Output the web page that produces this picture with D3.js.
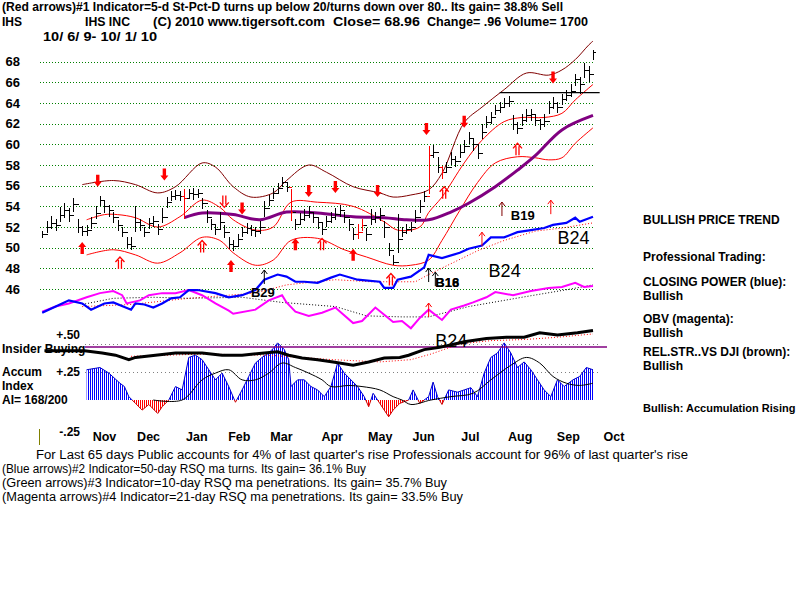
<!DOCTYPE html>
<html><head><meta charset="utf-8">
<script src="https://cdn.jsdelivr.net/npm/d3@7/dist/d3.min.js"></script>
<style>body{margin:0;background:#fff}svg{display:block}</style>
</head><body><svg id="c" width="800" height="600"></svg>
<script>
// ---------------- DATA ----------------
const priceTicks=[46,48,50,52,54,56,58,60,62,64,66,68];
const monthNames=['Nov','Dec','Jan','Feb','Mar','Apr','May','Jun','Jul','Aug','Sep','Oct'];
const monthStartDays=[19,39,61,80,99,122,143,163,185,206,228,249];
// price bars (one every 2 sessions)
const closes=[51.3,52.0,52.4,52.2,53.2,53.6,53.2,54.2,52.0,51.6,
51.7,52.4,53.4,54.6,54.0,53.6,53.0,52.2,51.5,50.4,
50.2,52.5,52.2,51.5,52.4,52.6,51.8,53.0,54.4,55.0,
55.1,55.0,54.8,55.3,55.2,55.3,54.3,53.0,52.3,51.8,
52.5,51.5,50.4,50.2,50.8,51.5,51.9,51.7,51.6,52.0,
53.8,54.6,55.3,55.8,56.4,55.9,53.5,52.3,52.8,53.2,
53.5,53.0,52.5,51.8,52.6,53.0,53.3,53.6,53.0,52.3,
51.3,51.5,52.2,51.3,52.8,53.0,53.2,52.0,49.8,48.6,
50.8,51.5,51.8,52.0,53.0,54.0,55.0,59.0,59.3,57.8,
57.3,57.8,58.6,58.4,59.3,59.8,60.6,60.0,59.2,61.2,
62.2,62.6,63.3,63.6,64.0,64.2,62.0,61.6,62.4,62.8,
62.9,62.4,62.0,62.3,63.6,64.0,63.6,64.4,64.8,65.2,
66.3,65.8,67.2,66.8,68.96];
const highs=[51.6,52.6,53.1,52.8,53.9,54.3,53.8,54.8,52.8,52.1,
52.2,53.0,54.0,55.0,54.5,54.1,53.5,52.7,52.0,51.0,
51.0,54.0,52.8,52.0,52.9,53.1,52.3,53.8,54.9,55.5,
55.6,55.5,55.7,55.7,55.8,55.7,54.8,53.6,52.8,52.3,
53.5,52.2,51.0,50.7,51.3,52.0,52.4,52.2,52.0,52.6,
54.5,55.1,55.8,56.3,56.8,56.3,55.7,52.8,53.4,53.7,
54.0,53.5,53.0,52.5,53.1,53.5,53.8,54.1,53.5,52.8,
51.9,52.3,52.8,51.9,53.7,53.5,53.8,52.6,50.5,49.3,
53.3,52.0,52.3,52.5,53.6,54.6,55.5,59.8,59.9,58.8,
57.9,58.3,59.3,58.9,59.9,60.4,61.2,60.6,59.9,62.0,
62.7,63.1,63.8,64.1,64.5,64.7,62.8,62.2,62.9,63.4,
63.4,62.9,62.5,62.9,64.2,64.6,64.1,64.9,65.3,65.8,
66.8,66.5,67.9,67.6,69.1];
const lows=[50.9,51.4,51.8,51.6,52.5,52.9,52.5,53.5,51.4,51.1,
51.1,51.8,52.8,54.0,53.4,53.0,52.4,51.6,51.0,49.9,
49.8,51.5,51.6,51.0,51.8,52.0,51.2,52.4,53.8,54.5,
54.6,54.5,52.8,54.8,54.6,54.8,53.7,52.4,51.7,51.2,
51.8,50.9,49.9,49.7,50.2,51.0,51.3,51.1,51.0,51.3,
53.0,54.0,54.7,55.3,55.9,55.4,52.6,51.7,52.2,52.6,
52.9,52.4,51.8,51.2,52.0,52.4,52.7,53.0,52.4,51.6,
50.7,50.8,51.6,50.6,52.2,52.4,52.6,50.9,49.2,48.3,
49.5,51.0,51.3,51.5,52.4,53.4,54.4,55.2,58.7,57.2,
56.6,57.2,58.0,57.8,58.7,59.2,60.0,59.4,58.6,60.5,
61.6,62.0,62.8,63.0,63.5,63.6,61.4,61.0,61.8,62.2,
62.3,61.8,61.4,61.7,62.9,63.4,63.0,63.8,64.2,64.6,
65.6,64.9,66.4,66.0,68.2];
const redBars=[32,56,71,72,87,90];
// bands
const upperDays=[19,33,43,53,61,73,79,87,95,105,111,121,129,141,153,159,167,175,181,191,199,209,219,229,235,241,247,249];
const upperVals=[56.1,56.5,56.1,55.3,55.9,58.2,57.8,55.9,54.9,55.3,56.5,58.0,57.3,55.9,55.3,54.9,55.1,55.6,57.2,62.1,63.6,65.3,66.9,66.7,67.2,68.2,69.6,70.0];
const innerDays=[21,29,35,43,53,63,73,81,87,97,105,113,125,141,155,161,171,175,181,191,199,209,217,227,235,241,249];
const innerVals=[52.7,53.2,53.2,52.9,52.0,53.0,54.6,53.9,52.7,51.7,52.0,54.4,54.4,54.0,52.5,51.7,52.0,53.4,54.9,58.2,60.4,62.2,62.6,62.6,63.0,64.3,65.8];
const lowerDays=[21,33,43,53,63,73,81,87,97,105,113,125,137,147,159,167,175,181,189,197,205,215,223,229,235,241,249];
const lowerVals=[49.3,49.8,49.3,48.5,49.5,51.0,50.7,49.5,48.3,48.8,50.7,50.9,49.8,49.1,48.3,48.3,48.8,50.7,53.6,56.3,58.2,58.8,58.7,58.5,58.7,60.1,61.6];
const maDays=[65,73,87,99,111,125,141,155,165,175,185,193,205,215,223,235,249];
const maVals=[52.9,53.35,53.2,52.7,53.45,53.35,53.0,52.9,52.7,52.7,53.45,54.3,55.9,57.5,58.9,61.4,62.8];
const resistance=65;
// closing power (blue) and its ma
const cpDays=[1,9,13,19,23,29,33,41,43,47,51,55,59,63,67,71,79,85,91,97,101,107,111,115,119,125,131,135,143,153,155,159,161,167,173,175,181,189,193,199,203,209,215,221,227,231,237,241,243,249];
const cpVals=[43.7,44.5,44.9,44.6,44.0,44.6,44.7,44.0,44.6,44.5,44.2,44.6,45.1,45.2,45.9,45.9,45.6,45.2,45.4,45.9,46.9,47.4,47.2,46.7,46.7,46.6,47.1,47.4,46.9,46.7,46.1,46.1,46.9,47.2,48.1,49.3,49.0,49.5,49.9,50.2,51.0,51.0,51.5,51.7,51.9,52.2,52.4,52.9,52.5,53.0];
const cpMaDays=[19,41,67,97,111,133,149,169,175,197,209,223,235,249];
const cpMaVals=[44.3,44.5,45.1,45.6,46.4,46.9,46.7,46.7,47.4,49.7,50.7,51.6,51.9,52.4];
// OBV (magenta) and its ma
const obvDays=[1,7,13,21,27,33,37,39,45,49,55,61,67,73,79,85,87,97,103,109,111,115,121,127,133,141,145,151,155,159,163,167,171,175,181,185,191,195,201,205,213,221,229,235,241,245,249];
const obvVals=[43.8,44.3,44.6,45.2,45.6,45.8,45.4,44.6,44.9,45.4,45.6,45.6,45.9,45.4,44.6,43.9,43.6,44.0,44.9,45.4,44.7,43.8,43.4,43.7,44.2,42.7,42.9,44.2,43.5,42.8,42.9,42.2,43.2,44.0,43.0,44.0,44.4,44.7,45.2,45.7,45.4,45.8,46.1,46.2,46.6,46.2,46.3];
const obvMaDays=[19,33,51,67,91,109,133,147,163,175,193,217,239,249];
const obvMaVals=[44.5,45.1,45.2,45.1,45.2,44.7,44.3,43.4,43.3,43.3,44.3,45.2,46.0,46.4];
// relative strength (black thick) and its ma, accumulation index
const rsDays=[2,20,28,34,40,43,52,61,73,82,91,101,107,112,118,125,132,141,148,155,162,166,173,180,191,201,210,218,225,233,242,249];
const rsVals=[0.44,0.44,0.42,0.40,0.36,0.38,0.40,0.42,0.42,0.40,0.40,0.42,0.43,0.40,0.375,0.36,0.34,0.31,0.34,0.375,0.38,0.40,0.45,0.47,0.52,0.55,0.56,0.56,0.60,0.58,0.60,0.62];
const rsMaDays=[41,73,103,132,153,167,176,189,203,218,233,249];
const rsMaVals=[0.39,0.41,0.40,0.36,0.34,0.36,0.41,0.50,0.53,0.54,0.56,0.59];
const insiderLevel=0.473;
const aiDays=[21,27,31,36,38,40,43,46,49,53,55,58,61,64,67,70,73,76,79,82,85,88,91,94,97,100,103,105,107,110,112,113,116,119,122,125,128,131,134,137,140,143,146,148,150,153,157,159,162,166,168,171,175,177,179,181,184,188,191,194,197,200,203,206,209,212,215,218,221,224,227,230,233,236,240,243,246,249];
const aiVals=[0.27,0.29,0.24,0.15,0.12,0.03,-0.03,-0.09,-0.04,-0.12,-0.06,0,0.12,0.09,0.38,0.40,0.36,0.27,0.18,0.24,0.12,-0.02,0.09,0.21,0.33,0.38,0.42,0.46,0.51,0.45,0.36,0.12,0.18,0.18,0.12,0.09,0.03,0.12,0.33,0.24,0.18,0.12,0.03,-0.06,0.06,-0.03,-0.15,-0.09,-0.03,0,0.09,-0.03,0.03,0.16,0.03,-0.04,0.09,0.07,0.09,0.11,0.03,0.24,0.38,0.42,0.51,0.42,0.29,0.34,0.27,0.18,0.09,0.03,0.18,0.12,0.18,0.21,0.29,0.27];
const aiMaDays=[51,64,73,79,85,91,97,103,109,115,121,127,131,139,145,153,159,163,167,176,185,195,203,212,219,225,231,237,243,249];
const aiMaVals=[0,0,0.18,0.24,0.27,0.18,0.18,0.24,0.33,0.29,0.24,0.18,0.12,0.13,0.12,0.09,0.03,0,-0.04,0,0.03,0.06,0.18,0.31,0.38,0.33,0.21,0.15,0.13,0.15];
const aiTicks=[0.5,0.25];
// signal arrows
const sellDays=[26,56,83,91,121,133,152,174,191,231];
const sellTips=[55.9,56.5,53.9,53.2,54.9,55.3,54.9,60.9,61.6,65.9];
const sellDouble=[0,0,1,0,0,0,0,0,0,0];
const buyDays=[19,36,73,86,115,127,141,158,182,215];
const buyTips=[50.55,49.1,50.7,48.8,50.9,50.9,49.9,47.5,55.9,60.1];
const buyDouble=[0,1,1,0,0,1,0,1,1,1];
const thinDays=[101,175,178,208,230,199,175];
const thinTips=[47.84,48.03,47.64,54.42,54.6,51.5,44.64];
const thinColors=['#000','#000','#000','#800000','#ff0000','#ff0000','#ff0000'];
const tagTexts=['B29','B16','B18','B19'];
const tagDays=[95,178,178,212];
const tagVals=[45.2,46.2,46.2,52.7];
const bigTags=['B24','B24'];
const bigTagDays=[233,202];
const bigTagVals=[50.35,47.16];
const rsTagDay=178, rsTagVal=0.47;
// texts
const header1='(Red arrows)#1 Indicator=5-d St-Pct-D turns up below 20/turns down over 80.. Its gain= 38.8% Sell';
const header2=['IHS','IHS INC','(C) 2010 www.tigersoft.com','Close=  68.96','Change= .96 Volume= 1700'];
const header3='10/ 6/ 9- 10/ 1/ 10';
const rightTexts=['BULLISH PRICE TREND','Professional Trading:','CLOSING POWER (blue):','Bullish','OBV (magenta):','Bullish','REL.STR..VS DJI (brown):','Bullish','Bullish: Accumulation Rising'];
const leftTexts=['Insider Buying','Accum','Index','AI= 168/200'];
const aiLabels=['+.50','+.25','-.25'];
const footer=["For Last 65 days Public accounts for  4% of last quarter's rise  Professionals account for  96% of last quarter's rise",
'(Blue arrows)#2 Indicator=50-day RSQ ma turns. Its gain= 36.1% Buy',
'(Green arrows)#3 Indicator=10-day RSQ ma penetrations. Its gain= 35.7% Buy',
'(Magenta arrows)#4 Indicator=21-day RSQ ma penetrations. Its gain= 33.5% Buy'];

// ---------------- DRAW ----------------
const FONT='"Liberation Sans", Arial, sans-serif';
const svg=d3.select('#c').attr('font-family',FONT);
svg.append('rect').attr('width',800).attr('height',600).attr('fill','#fff');
const x=d3.scaleLinear().domain([0,249]).range([40,593]);
const y=d3.scaleLinear().domain([46,68]).range([289,61.7]);
const yA=d3.scaleLinear().domain([0,0.5]).range([400,344]);
const barDay=i=>2*i+1;

function T(s,px,py,o={}){
  const t=svg.append('text').attr('x',px).attr('y',py).attr('dy','0.35em')
   .attr('font-size',o.size||12).attr('font-weight',o.bold===false?'normal':'bold')
   .attr('fill',o.fill||'#000').attr('text-anchor',o.anchor||'start').text(s);
  if(o.len){t.attr('textLength',o.len).attr('lengthAdjust','spacingAndGlyphs');}
  return t;
}

// price grid & axis
const ax=svg.append('g').attr('transform','translate(40,0)')
  .call(d3.axisLeft(y).tickValues(priceTicks).tickSize(-553).tickPadding(20).tickFormat(d3.format('d')));
ax.select('.domain').remove();
ax.selectAll('.tick line').attr('stroke','#008000').attr('stroke-dasharray','1,2').attr('shape-rendering','crispEdges');
ax.selectAll('.tick text').attr('font-size',13).attr('font-weight','bold').attr('fill','#000').attr('font-family',FONT);

// month axis
const mx=svg.append('g').attr('transform','translate(0,437)')
  .call(d3.axisBottom(x).tickValues(monthStartDays).tickFormat((d,i)=>monthNames[i]).tickSize(0).tickPadding(0));
mx.select('.domain').remove();
mx.selectAll('.tick text').attr('text-anchor','start').attr('dx',10).attr('y',0).attr('dy','0.35em')
  .attr('font-size',12.5).attr('font-weight','bold').attr('fill','#000').attr('font-family',FONT);

const lineP=d3.line().x(d=>x(d[0])).y(d=>y(d[1]));
const smoothP=d3.line().x(d=>x(d[0])).y(d=>y(d[1])).curve(d3.curveCatmullRom);
const lineA=d3.line().x(d=>x(d[0])).y(d=>yA(d[1]));
const smoothA=d3.line().x(d=>x(d[0])).y(d=>yA(d[1])).curve(d3.curveCatmullRom);
function path(gen,xs,vs,stroke,w,dash){
  const p=svg.append('path').attr('d',gen(d3.zip(xs,vs))).attr('fill','none').attr('stroke',stroke).attr('stroke-width',w);
  if(dash)p.attr('stroke-dasharray',dash);
  return p;
}

// bands and MA
path(smoothP,upperDays,upperVals,'#800000',1);
path(smoothP,innerDays,innerVals,'#ff0000',1);
path(smoothP,lowerDays,lowerVals,'#ff0000',1);
path(smoothP,maDays,maVals,'#800080',3);
svg.append('line').attr('x1',x(207)).attr('x2',x(252)).attr('y1',y(resistance)).attr('y2',y(resistance)).attr('stroke','#000').attr('stroke-width',1.2);

// price bars
const bars=svg.append('g').attr('shape-rendering','crispEdges');
closes.forEach((c,i)=>{
  const xx=Math.round(x(barDay(i)))+0.5;
  const col=redBars.includes(i)?'#ff0000':'#000';
  bars.append('line').attr('x1',xx).attr('x2',xx).attr('y1',y(highs[i])).attr('y2',y(lows[i])).attr('stroke',col).attr('stroke-width',1.3);
  const yc=Math.round(y(c))+0.5;
  bars.append('line').attr('x1',xx).attr('x2',xx+2.5).attr('y1',yc).attr('y2',yc).attr('stroke',col);
  if(i>0){const yo=Math.round(y(closes[i-1]))+0.5;
    bars.append('line').attr('x1',xx-2.5).attr('x2',xx).attr('y1',yo).attr('y2',yo).attr('stroke',col);}
});

// closing power & OBV
path(lineP,cpMaDays,cpMaVals,'#ff0000',1,'1,2');
path(lineP,obvMaDays,obvMaVals,'#000',1,'1,2');
path(lineP,obvDays,obvVals,'#ff00ff',2);
path(lineP,cpDays,cpVals,'#0000ff',2.2);

// arrows
function fat(d,p,dir,dbl){
  const g=svg.append('g').attr('transform',`translate(${x(d)},${y(p)}) scale(1,${dir})`);
  if(dbl){
    g.append('path').attr('d','M-1.5,3V12M1.5,3V12M-4.5,5L0,0L4.5,5').attr('fill','none').attr('stroke','#ff0000').attr('stroke-width',1.3);
  } else {
    g.append('path').attr('d','M0,0L4,5L1.7,5L1.7,12L-1.7,12L-1.7,5L-4,5Z').attr('fill','#ff0000');
  }
}
buyDays.forEach((d,i)=>fat(d,buyTips[i],1,buyDouble[i]));
sellDays.forEach((d,i)=>fat(d,sellTips[i],-1,sellDouble[i]));
thinDays.forEach((d,i)=>{
  svg.append('path').attr('transform',`translate(${x(d)},${y(thinTips[i])})`)
   .attr('d','M0,0V14M-3,4L0,0L3,4').attr('fill','none').attr('stroke',thinColors[i]).attr('stroke-width',1);
});
tagTexts.forEach((s,i)=>T(s,x(tagDays[i]),y(tagVals[i]),{size:13}).attr('dy',0));
bigTags.forEach((s,i)=>T(s,x(bigTagDays[i]),y(bigTagVals[i]),{size:18,bold:false}).attr('dy',0));

// ---- accumulation / RS panel ----
aiTicks.forEach(t=>{
  svg.append('line').attr('x1',85).attr('x2',600).attr('y1',yA(t)).attr('y2',yA(t))
   .attr('stroke','#808080').attr('stroke-dasharray','1,3').attr('shape-rendering','crispEdges');
});
const defs=svg.append('defs');
const pb=defs.append('pattern').attr('id','pb').attr('patternUnits','userSpaceOnUse').attr('width',2).attr('height',4);
pb.append('rect').attr('width',1).attr('height',4).attr('fill','#0000ff');
const pr=defs.append('pattern').attr('id','pr').attr('patternUnits','userSpaceOnUse').attr('width',2).attr('height',4);
pr.append('rect').attr('width',1).attr('height',4).attr('fill','#ff0000');
defs.append('clipPath').attr('id','cpos').append('rect').attr('x',0).attr('y',300).attr('width',800).attr('height',yA(0)-300);
defs.append('clipPath').attr('id','cneg').append('rect').attr('x',0).attr('y',yA(0)).attr('width',800).attr('height',60);
const aiPts=d3.zip(aiDays,aiVals);
const area=d3.area().x(d=>x(d[0])).y0(yA(0)).y1(d=>yA(d[1]));
svg.append('path').attr('d',area(aiPts)).attr('fill','url(#pb)').attr('clip-path','url(#cpos)');
svg.append('path').attr('d',area(aiPts)).attr('fill','url(#pr)').attr('clip-path','url(#cneg)');
svg.append('path').attr('d',lineA(aiPts)).attr('fill','none').attr('stroke','#0000cc').attr('stroke-width',1).attr('clip-path','url(#cpos)');
svg.append('path').attr('d',lineA(aiPts)).attr('fill','none').attr('stroke','#cc0000').attr('stroke-width',1).attr('clip-path','url(#cneg)');
path(smoothA,aiMaDays,aiMaVals,'#000',1);
svg.append('line').attr('x1',85).attr('x2',607).attr('y1',yA(insiderLevel)).attr('y2',yA(insiderLevel)).attr('stroke','#800080').attr('stroke-width',1.3);
path(lineA,rsMaDays,rsMaVals,'#ff0000',1,'1,2');
path(lineA,rsDays,rsVals,'#000',3);
T('B24',x(rsTagDay),yA(rsTagVal),{size:18,bold:false}).attr('dy',0);

// AI panel labels
T(aiLabels[0],80,335,{anchor:'end'});
T(aiLabels[1],80,yA(aiTicks[1]),{anchor:'end'});
T(aiLabels[2],80,432,{anchor:'end'});
T(leftTexts[0],2,349);
T(leftTexts[1],2,372);
T(leftTexts[2],2,386);
T(leftTexts[3],2,400);
svg.append('line').attr('x1',39.5).attr('x2',39.5).attr('y1',429).attr('y2',445).attr('stroke','#808000');

// header
T(header1,2,7,{len:561});
T(header2[0],2,22);
T(header2[1],85,22,{len:45});
T(header2[2],153,22,{len:172});
T(header2[3],333,22,{len:87});
T(header2[4],427,22,{len:161});
T(header3,43,37,{len:114});

// right column
[220,257,282,296,319,333,352,366,408].forEach((py,i)=>{
  T(rightTexts[i],643,py,{size:i===8?11:12});
});

// footer
T(footer[0],36,455,{bold:false,len:652});
T(footer[1],2,469,{bold:false,len:364});
T(footer[2],2,483,{bold:false,len:445});
T(footer[3],2,497,{bold:false,len:461});
</script></body></html>
